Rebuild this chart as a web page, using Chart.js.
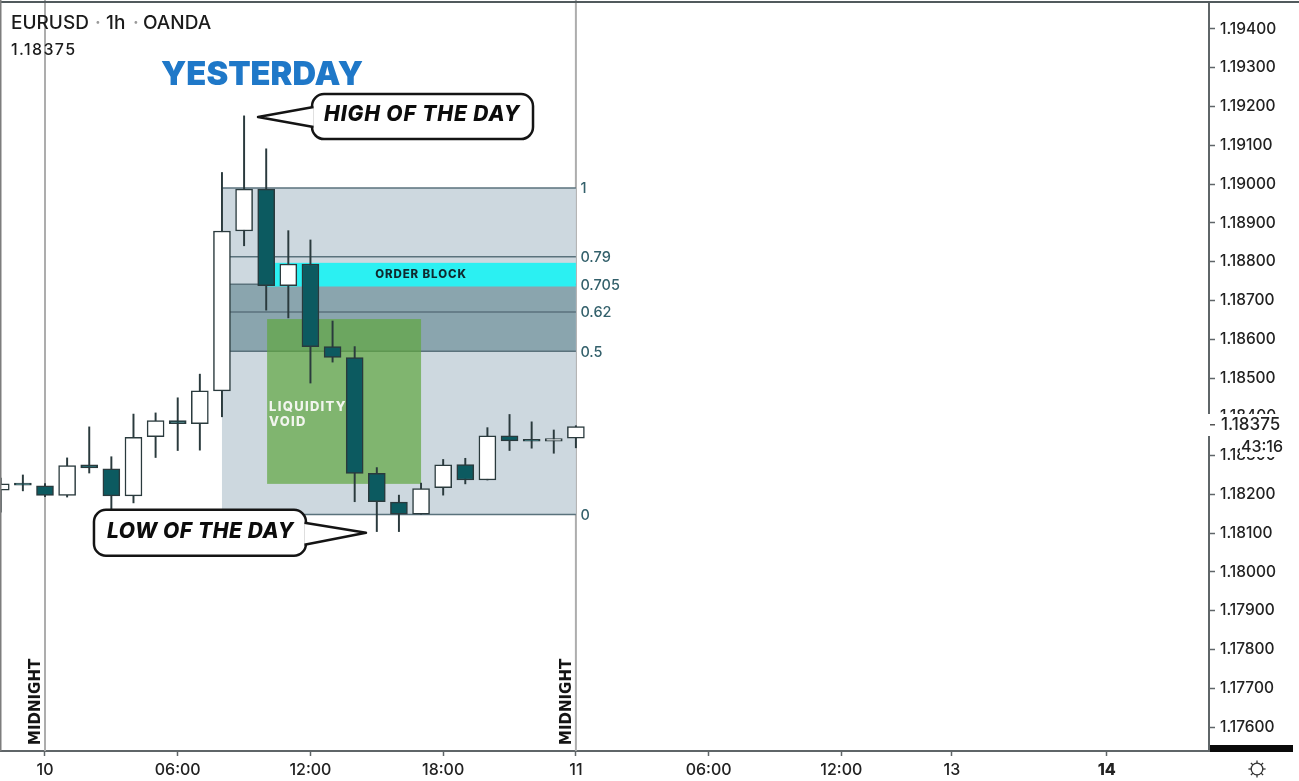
<!DOCTYPE html>
<html>
<head>
<meta charset="utf-8">
<title>EURUSD 1h</title>
<script src="https://cdn.jsdelivr.net/npm/chart.js@4"></script>
<style>
  html, body { margin: 0; padding: 0; background: #fff; }
  canvas { display: block; }
</style>
</head>
<body>
<canvas id="myChart" width="1299" height="781"></canvas>
<script>
// hours counted from midnight on the 10th
const hours  = [-2, -1, 0, 1, 2, 3, 4, 5, 6, 7, 8, 9, 10, 11, 12, 13, 14, 15, 16, 17, 18, 19, 20, 21, 22, 23, 24];
const opens  = [1.18211, 1.18225, 1.18222, 1.18197, 1.18276, 1.18266, 1.18196, 1.18349, 1.18390, 1.18382, 1.18467, 1.18879, 1.18987, 1.18738, 1.18794, 1.18581, 1.18553, 1.18254, 1.18180, 1.18149, 1.18217, 1.18277, 1.18237, 1.18351, 1.18338, 1.18337, 1.18345];
const highs  = [1.18242, 1.18250, 1.18228, 1.18294, 1.18374, 1.18297, 1.18407, 1.18410, 1.18449, 1.18510, 1.19030, 1.19176, 1.19091, 1.18880, 1.18856, 1.18647, 1.18581, 1.18269, 1.18198, 1.18229, 1.18290, 1.18293, 1.18372, 1.18406, 1.18387, 1.18366, 1.18377];
const lows   = [1.18154, 1.18209, 1.18194, 1.18193, 1.18255, 1.18160, 1.18178, 1.18295, 1.18313, 1.18314, 1.18400, 1.18841, 1.18675, 1.18655, 1.18487, 1.18541, 1.18181, 1.18104, 1.18104, 1.18149, 1.18198, 1.18227, 1.18237, 1.18313, 1.18319, 1.18306, 1.18320];
const closes = [1.18227, 1.18224, 1.18197, 1.18274, 1.18268, 1.18196, 1.18347, 1.18390, 1.18382, 1.18467, 1.18879, 1.18987, 1.18738, 1.18794, 1.18581, 1.18553, 1.18254, 1.18181, 1.18149, 1.18215, 1.18276, 1.18237, 1.18351, 1.18338, 1.18337, 1.18344, 1.18375];

const lastPrice = '1.18375';
const countdown = '43:16';

const priceTicks = [1.194, 1.193, 1.192, 1.191, 1.19, 1.189, 1.188, 1.187, 1.186, 1.185, 1.184, 1.183, 1.182, 1.181, 1.18, 1.179, 1.178, 1.177, 1.176];
const timeTicks = [0, 6, 12, 18, 24, 30, 36, 41, 48];
const timeLabels = ['10', '06:00', '12:00', '18:00', '11', '06:00', '12:00', '13', '14'];

// retracement levels of the previous day
const fibLabels = ['1', '0.79', '0.705', '0.62', '0.5', '0'];
const fibPrices = [1.18990, 1.18813, 1.18742, 1.18670, 1.18569, 1.18148];
const fibStart = 8, fibEnd = 24;

const orderBlock = { from: 10, to: 24, top: 1.18797, bottom: 1.18736 };
const voidZone = { from: 10.04, to: 17, top: 1.18652, bottom: 1.18227 };
const midnights = [0, 24];
const highCallout = { hour: 9.63, price: 1.19173 };
const lowCallout = { hour: 14.51, price: 1.18101 };

const UP = '#ffffff', DOWN = '#0c5a60', EDGE = '#2a3a3d';
const FONT = 'Inter, "Liberation Sans", sans-serif';

// speech bubble with a pointer, tip is given in pixels
function bubble(ctx, box, tip, base1, base2, text, textX, textY, size, spacing) {
  ctx.save();
  ctx.lineWidth = 2.5;
  ctx.lineJoin = 'round';
  ctx.strokeStyle = '#141414';
  ctx.fillStyle = '#fff';
  ctx.beginPath();
  ctx.roundRect(box.x, box.y, box.w, box.h, 12);
  ctx.fill();
  ctx.stroke();
  ctx.beginPath();
  ctx.moveTo(base1.x, base1.y);
  ctx.lineTo(tip.x, tip.y);
  ctx.lineTo(base2.x, base2.y);
  ctx.closePath();
  ctx.fill();
  ctx.beginPath();
  ctx.moveTo(base1.x, base1.y);
  ctx.lineTo(tip.x, tip.y);
  ctx.lineTo(base2.x, base2.y);
  ctx.stroke();
  ctx.fillStyle = '#0c0c0c';
  ctx.font = 'italic 800 ' + size + 'px ' + FONT;
  ctx.letterSpacing = spacing + 'px';
  ctx.textAlign = 'left';
  ctx.textBaseline = 'middle';
  ctx.fillText(text, textX, textY);
  ctx.restore();
}

// shaded zones go under the candles
const zonesPlugin = {
  id: 'zones',
  beforeDatasetsDraw(chart) {
    const { ctx, scales: { x, y }, chartArea } = chart;
    ctx.save();

    ctx.strokeStyle = '#adadad';
    ctx.lineWidth = 2;
    midnights.forEach((h) => {
      ctx.beginPath();
      ctx.moveTo(x.getPixelForValue(h), 0);
      ctx.lineTo(x.getPixelForValue(h), chartArea.bottom);
      ctx.stroke();
    });

    const left = x.getPixelForValue(fibStart), right = x.getPixelForValue(fibEnd);
    const py = fibPrices.map((p) => y.getPixelForValue(p));

    ctx.fillStyle = '#cdd8df';
    ctx.fillRect(left, py[0], right - left, py[5] - py[0]);
    ctx.fillStyle = '#8aa5ae';
    ctx.fillRect(left, py[2], right - left, py[4] - py[2]);

    ctx.lineWidth = 1.5;
    ctx.strokeStyle = '#5a727c';
    py.forEach((p) => {
      ctx.beginPath();
      ctx.moveTo(left, p);
      ctx.lineTo(right, p);
      ctx.stroke();
    });

    const obLeft = x.getPixelForValue(orderBlock.from);
    const obTop = y.getPixelForValue(orderBlock.top);
    ctx.fillStyle = '#2bf0f2';
    ctx.fillRect(obLeft, obTop, right - obLeft, y.getPixelForValue(orderBlock.bottom) - obTop);

    const vLeft = x.getPixelForValue(voidZone.from);
    const vTop = y.getPixelForValue(voidZone.top);
    ctx.fillStyle = 'rgba(95,166,63,0.7)';
    ctx.fillRect(vLeft, vTop, x.getPixelForValue(voidZone.to) - vLeft, y.getPixelForValue(voidZone.bottom) - vTop);

    ctx.fillStyle = '#33606b';
    ctx.font = '500 14.5px ' + FONT;
    ctx.textBaseline = 'middle';
    ctx.textAlign = 'left';
    fibLabels.forEach((label, i) => ctx.fillText(label, right + 4.5, py[i] + 1));
    ctx.restore();
  },

  // labels, callouts and the axis bits sitting on top of everything
  afterDraw(chart) {
    const { ctx, scales: { x, y }, chartArea } = chart;
    ctx.save();

    ctx.fillStyle = '#515a5d';
    ctx.fillRect(0, 1, 1299, 2);
    ctx.fillStyle = '#7d7d7d';
    ctx.fillRect(0, 0, 1.5, chartArea.bottom);

    ctx.textBaseline = 'middle';
    ctx.textAlign = 'left';

    ctx.fillStyle = '#1b1b1b';
    ctx.font = '500 19px ' + FONT;
    ctx.fillText('EURUSD', 11, 23.5);
    ctx.fillText('1h', 106, 23.5);
    ctx.fillText('OANDA', 143, 23.5);
    ctx.fillStyle = '#9a9a9a';
    ctx.fillText('·', 95, 23.5);
    ctx.fillText('·', 133, 23.5);
    ctx.fillStyle = '#1b1b1b';
    ctx.font = '500 16px ' + FONT;
    ctx.letterSpacing = '1.4px';
    ctx.fillText(lastPrice, 11, 50.5);
    ctx.letterSpacing = '0px';

    ctx.fillStyle = '#1f78c8';
    ctx.font = '900 32.7px ' + FONT;
    ctx.fillText('YESTERDAY', 161, 75);

    ctx.fillStyle = '#10292e';
    ctx.font = '800 11.5px ' + FONT;
    ctx.letterSpacing = '0.9px';
    ctx.textAlign = 'center';
    ctx.fillText('ORDER BLOCK', 421, 274.5);

    ctx.textAlign = 'left';
    ctx.fillStyle = '#f2f5ee';
    ctx.font = '800 13px ' + FONT;
    ctx.letterSpacing = '1.3px';
    ctx.fillText('LIQUIDITY', 269, 407);
    ctx.fillText('VOID', 269, 422);
    ctx.letterSpacing = '0px';

    const hTip = { x: x.getPixelForValue(highCallout.hour), y: y.getPixelForValue(highCallout.price) };
    bubble(ctx, { x: hTip.x + 54, y: hTip.y - 23, w: 221, h: 45 }, hTip,
      { x: hTip.x + 55.5, y: hTip.y - 10 }, { x: hTip.x + 55.5, y: hTip.y + 10 },
      'HIGH OF THE DAY', hTip.x + 66, hTip.y - 2, 21, 0.9);
    const lTip = { x: x.getPixelForValue(lowCallout.hour), y: y.getPixelForValue(lowCallout.price) };
    bubble(ctx, { x: lTip.x - 272, y: lTip.y - 23, w: 212, h: 46 }, lTip,
      { x: lTip.x - 61.5, y: lTip.y - 10 }, { x: lTip.x - 61.5, y: lTip.y + 12 },
      'LOW OF THE DAY', lTip.x - 259, lTip.y - 1, 21, 0.6);

    ctx.fillStyle = '#141414';
    ctx.font = '700 15px "DejaVu Sans", sans-serif';
    ctx.textAlign = 'left';
    midnights.forEach((h) => {
      ctx.save();
      ctx.translate(x.getPixelForValue(h) - 9, 745);
      ctx.rotate(-Math.PI / 2);
      ctx.fillText('MIDNIGHT', 0, 0);
      ctx.restore();
    });

    // last price tag hides part of the price scale
    ctx.fillStyle = '#fff';
    ctx.fillRect(1208, 414, 91, 22);
    ctx.fillRect(1240, 436, 59, 21);
    ctx.fillStyle = '#555';
    ctx.fillRect(1210, 424, 5, 1.5);
    ctx.fillStyle = '#222';
    ctx.font = '500 17px ' + FONT;
    ctx.fillText(lastPrice, 1221, 424.5);
    ctx.font = '500 16px ' + FONT;
    ctx.textAlign = 'center';
    ctx.fillText(countdown, 1262, 447);

    // clipped tag at the bottom of the scale
    ctx.fillStyle = '#0a0a0a';
    ctx.fillRect(1210, 745, 83, 7);

    // settings icon
    ctx.strokeStyle = '#333';
    ctx.lineWidth = 1.3;
    ctx.beginPath();
    ctx.arc(1257, 769, 5.8, 0, Math.PI * 2);
    ctx.stroke();
    for (let i = 0; i < 8; i++) {
      const a = i * Math.PI / 4;
      ctx.beginPath();
      ctx.moveTo(1257 + Math.cos(a) * 5.8, 769 + Math.sin(a) * 5.8);
      ctx.lineTo(1257 + Math.cos(a) * 8.6, 769 + Math.sin(a) * 8.6);
      ctx.stroke();
    }
    ctx.restore();
  }
};

const bodies = hours.map((h, i) => ({ x: h, y: [opens[i], closes[i]] }));
const wicks = hours.map((h, i) => ({ x: h, y: [lows[i], highs[i]] }));
const bodyColors = hours.map((h, i) => (closes[i] >= opens[i] ? UP : DOWN));

new Chart(document.getElementById('myChart'), {
  type: 'bar',
  data: {
    datasets: [
      {
        label: 'body',
        data: bodies,
        grouped: false,
        barThickness: 17,
        minBarLength: 2,
        backgroundColor: bodyColors,
        borderColor: EDGE,
        borderWidth: 1.5,
        borderSkipped: false
      },
      {
        label: 'wick',
        data: wicks,
        grouped: false,
        barThickness: 1.3,
        backgroundColor: EDGE,
        borderWidth: 0
      }
    ]
  },
  options: {
    responsive: false,
    animation: false,
    layout: { padding: { top: 2, left: 0, right: 0, bottom: 0 } },
    plugins: { legend: { display: false }, tooltip: { enabled: false } },
    scales: {
      x: {
        type: 'linear',
        offset: false,
        min: -2.034,
        max: 52.62,
        afterBuildTicks(scale) { scale.ticks = timeTicks.map((v) => ({ value: v })); },
        afterFit(scale) {
          scale.height = 30;
          scale.paddingLeft = 0;
          scale.paddingRight = 0;
        },
        border: { color: '#5f6568', width: 2 },
        grid: { offset: false, drawOnChartArea: false, drawTicks: true, tickLength: 5, color: '#5f6568', tickWidth: 1.5 },
        ticks: {
          autoSkip: false,
          maxRotation: 0,
          padding: 5,
          color: '#222',
          font: (c) => ({ family: FONT, size: 16, weight: c.tick && c.tick.value === 48 ? '800' : '500' }),
          callback: (v) => timeLabels[timeTicks.indexOf(v)]
        }
      },
      y: {
        position: 'right',
        min: 1.175382,
        max: 1.194696,
        afterBuildTicks(scale) { scale.ticks = priceTicks.map((v) => ({ value: v })); },
        afterFit(scale) {
          scale.width = 90;
          scale.paddingTop = 0;
          scale.paddingBottom = 0;
        },
        border: { color: '#5f6568', width: 2 },
        grid: { drawOnChartArea: false, drawTicks: true, tickLength: 6, color: '#5f6568', tickWidth: 1.5 },
        ticks: {
          autoSkip: false,
          padding: 5,
          color: '#222',
          font: { family: FONT, size: 15.5, weight: '500' },
          callback: (v) => v.toFixed(5)
        }
      }
    }
  },
  plugins: [zonesPlugin]
});
</script>
</body>
</html>
